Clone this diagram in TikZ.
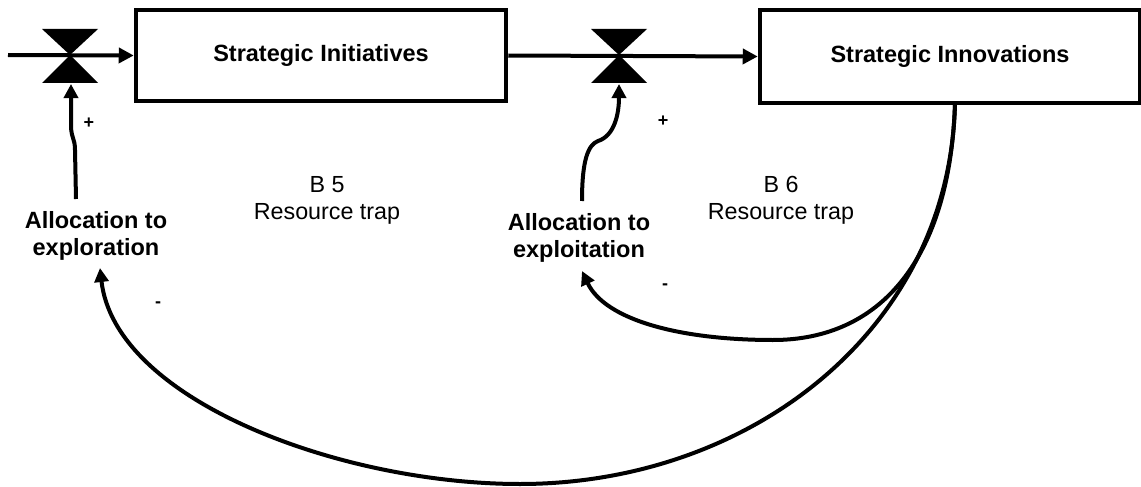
\documentclass[tikz,border=0pt]{standalone}
\usepackage{fontspec}
\setmainfont{Liberation Sans}
\usetikzlibrary{arrows.meta}
\begin{document}
\begin{tikzpicture}[x=1pt,y=-1pt,
  stock/.style={draw, line width=4.5pt, minimum width=370pt, minimum height=91pt, inner sep=0pt,
    font=\fontsize{23.5}{27}\selectfont\bfseries},
  lbl/.style={align=center, inner sep=0pt, font=\fontsize{23.5}{27}\selectfont\bfseries},
  txt/.style={align=center, inner sep=0pt, font=\fontsize{23.3}{27}\selectfont},
  sign/.style={inner sep=0pt, font=\fontsize{18}{20}\selectfont\bfseries},
  flowline/.style={line width=4pt, -{Triangle[length=15pt,width=15pt]}},
  link/.style={line width=4pt, -{Triangle[length=14pt,width=14pt]}},
  valve/.pic={\fill (-28,-26) -- (28,-26) -- (0,0) -- cycle;
              \fill (-28,28) -- (28,28) -- (0,0) -- cycle;}
]
\useasboundingbox (0,0) rectangle (1141,487);

% stocks
\node[stock] (si) at (321,55.5) {Strategic Initiatives};
\node[stock, minimum width=380pt, minimum height=93pt] (sn) at (950,56.5) {Strategic Innovations};

% valves
\coordinate (src) at (8,55);
\coordinate (v1) at (70,55);
\coordinate (v2) at (619,55);
\pic at (v1) {valve};
\pic at (v2) {valve};
\coordinate (v1in) at (71,84);
\coordinate (v2in) at (619,84);

% flows
\draw[flowline] (src) -- (si.west);
\draw[flowline] (si.east) -- (sn.west);

% auxiliaries
\node[lbl] (ae) at (96,236) {Allocation to\\exploration};
\node[lbl] (ax) at (579,238) {Allocation to\\exploitation};
\coordinate (aeo) at (76,199);
\coordinate (axo) at (582,201);
\coordinate (aei) at (100,268);
\coordinate (axi) at (582,271);
\coordinate (snb) at (955,103);

% loop labels
\node[txt] (b5) at (327,200) {B 5\\Resource trap};
\node[txt] (b6) at (781,200) {B 6\\Resource trap};

% links to valves
\draw[link] (aeo) -- (75,150) .. controls (75,138) and (71,138) .. (71,125) -- (v1in);
\draw[link] (axo) .. controls (582,160) and (588,145) .. (598,141)
                  .. controls (614,136) and (619,115) .. (v2in);

% feedback links
\draw[link] (snb) .. controls (950,260) and (880,340) .. (773,340)
                  .. controls (680,340) and (605,320) .. (axi);
\draw[link] (snb) .. controls (950,330) and (750,484) .. (520,484)
                  .. controls (340,484) and (115,400) .. (aei);

% polarities
\node[sign] (p1) at (89,123) {+};
\node[sign] (p2) at (663,121) {+};
\node[sign] (m1) at (665,287) {-};
\node[sign] (m2) at (158,305) {-};
\end{tikzpicture}
\end{document}
